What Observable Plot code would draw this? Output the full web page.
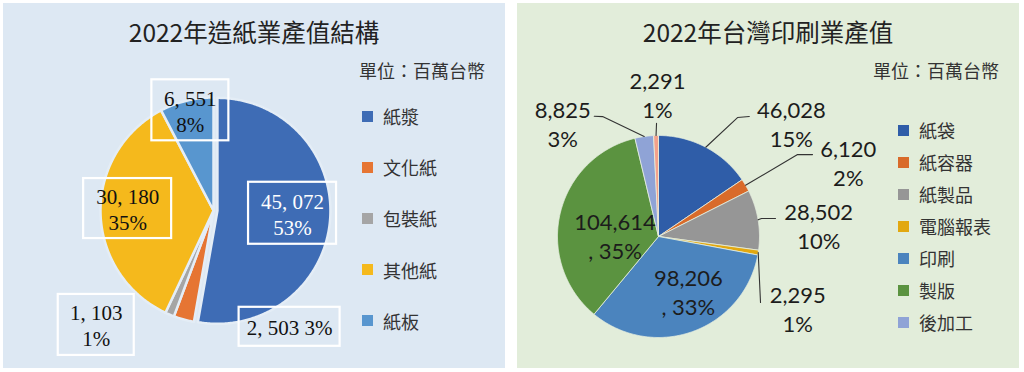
<!DOCTYPE html>
<html>
<head>
<meta charset="utf-8">
<script src="https://cdn.jsdelivr.net/npm/d3@7"></script>
<script src="https://cdn.jsdelivr.net/npm/@observablehq/plot@0.6"></script>
<style>
  html, body { margin: 0; padding: 0; background: #ffffff; }
  body { width: 1024px; height: 372px; position: relative; overflow: hidden;
         font-family: "Noto Sans CJK TC", "Noto Sans", sans-serif; }
  .panel { position: absolute; top: 3px; width: 502px; height: 365px; }
  .panel svg { position: absolute; left: 0; top: 0; }
  .title { position: absolute; left: 0; width: 100%; text-align: center; top: 12px;
           font-size: 24.5px; color: #222; line-height: 34px; white-space: nowrap; }
  .unit { position: absolute; right: 20px; top: 55px; font-size: 18px; color: #333;
          line-height: 24px; white-space: nowrap; }
  .legend { position: absolute; left: 0; top: 0; }
  .item { position: absolute; display: flex; align-items: center; font-size: 18px;
          color: #333; white-space: nowrap; line-height: 24px; }
  .sw { width: 11px; height: 11px; display: inline-block; }
</style>
</head>
<body>
<div id="left" class="panel" style="left:3px;background:#dde8f3">
  <div class="title" id="leftTitle"></div>
  <div class="unit" id="leftUnit"></div>
  <div class="legend" id="leftLegend"></div>
</div>
<div id="right" class="panel" style="left:517px;background:#e2edda">
  <div class="title" id="rightTitle"></div>
  <div class="unit" id="rightUnit"></div>
  <div class="legend" id="rightLegend"></div>
</div>
<script>
// ---------------- data ----------------
const paperTitle = "2022年造紙業產值結構";
const printTitle = "2022年台灣印刷業產值";
const unitText = "單位：百萬台幣";

const paperCategories = ["紙漿", "文化紙", "包裝紙", "其他紙", "紙板"];
const paperValues = [45072, 2503, 1103, 30180, 6551];
const paperValueText = ["45, 072", "2, 503", "1, 103", "30, 180", "6, 551"];
const paperPercents = ["53%", "3%", "1%", "35%", "8%"];
const paperColors = ["#3e6cb5", "#e67533", "#a5a5a5", "#f5b91c", "#5896cf"];

const printCategories = ["紙袋", "紙容器", "紙製品", "電腦報表", "印刷", "製版", "後加工", "其他"];
const printValues = [46028, 6120, 28502, 2295, 98206, 104614, 8825, 2291];
const printValueText = ["46,028", "6,120", "28,502", "2,295", "98,206", "104,614", "8,825", "2,291"];
const printPercents = ["15%", "2%", "10%", "1%", ", 33%", ", 35%", "3%", "1%"];
const printColors = ["#2f5da8", "#d96b2a", "#969696", "#e2a810", "#4b84be", "#5b9340", "#8fa3d6", "#f4a18b"];
const printLegendCount = 7; // the last slice has no legend entry

// ---------------- layout (not data) ----------------
const PW = 502, PH = 365;
const leftLayout = {
  cx: 210, cy: 207, R: 113,
  explode: [0.035, 0, 0, 0, 0],
  // label anchor: polar angle (deg, clockwise from 12 o'clock) and radius (x R)
  label: [[92, 0.70], [146.8, 1.23], [225.7, 1.45], [271.3, 0.76], [347, 0.91]],
  box: [[88, 62], [101, 39], [76, 61], [88, 60], [77, 61]],
  textColor: ["#ffffff", "#111", "#111", "#111", "#111"]
};
const rightLayout = {
  cx: 141, cy: 233, R: 101,
  label: [[49.5, 1.73], [68.5, 2.02], [86.1, 1.59], [117.2, 1.55], [151.6, 0.62], [272, 0.43], [319.8, 1.47], [359.6, 1.41]],
  leader: [[[33.6, 1.414], [37.1, 1.49]], [[59.5, 1.598], [62.0, 1.727]], [[80.1, 1.035], [81.25, 1.172]],
           [[122.9, 1.203]], [], [], [[335.0, 1.31], [331.9, 1.35]], [[359.0, 1.12]]]
};

const rad = Math.PI / 180;
const polar = (a, r) => [r * Math.sin(a * rad), r * Math.cos(a * rad)];

function slicePolys(cats, vals, explode) {
  const arcs = d3.pie().sort(null).value(d => d)(vals);
  const pts = [];
  arcs.forEach((arc, i) => {
    const mid = (arc.startAngle + arc.endAngle) / 2;
    const e = explode ? explode[i] : 0;
    const ox = e * Math.sin(mid), oy = e * Math.cos(mid);
    pts.push({name: cats[i], x: ox, y: oy});
    const n = Math.max(2, Math.ceil((arc.endAngle - arc.startAngle) / (0.5 * rad)));
    for (let k = 0; k <= n; k++) {
      const a = arc.startAngle + (arc.endAngle - arc.startAngle) * k / n;
      pts.push({name: cats[i], x: ox + Math.sin(a), y: oy + Math.cos(a)});
    }
    pts.push({name: cats[i], x: ox, y: oy});
  });
  return {arcs, pts};
}

function frame(L) {
  return {
    width: PW, height: PH, margin: 0,
    x: {domain: [-L.cx / L.R, (PW - L.cx) / L.R], range: [0, PW], axis: null},
    y: {domain: [(L.cy - PH) / L.R, L.cy / L.R], range: [PH, 0], axis: null},
    style: {background: "transparent", overflow: "visible"}
  };
}

// ---------------- left chart ----------------
{
  const L = leftLayout;
  const {pts} = slicePolys(paperCategories, paperValues, L.explode);
  const labels = paperCategories.map((c, i) => {
    const [x, y] = polar(L.label[i][0], L.label[i][1]);
    const text = i === 1 ? paperValueText[i] + " " + paperPercents[i] : paperValueText[i] + "\n" + paperPercents[i];
    const hw = L.box[i][0] / 2 / L.R, hh = L.box[i][1] / 2 / L.R;
    return {name: c, x, y, text, fill: L.textColor[i], x1: x - hw, x2: x + hw, y1: y - hh, y2: y + hh};
  });
  const svg = Plot.plot({
    ...frame(L),
    color: {type: "ordinal", domain: paperCategories, range: paperColors},
    marks: [
      Plot.line(pts, {x: "x", y: "y", z: "name", fill: "name", stroke: "#e4edf6", strokeWidth: 2.5, curve: "linear"}),
      Plot.rect(labels, {x1: "x1", x2: "x2", y1: "y1", y2: "y2", fill: "none", stroke: "#ffffff", strokeWidth: 2.2}),
      Plot.text(labels, {x: "x", y: "y", text: "text", fill: d => d.fill, fontSize: 21, lineHeight: 1.25,
        fontFamily: "'Liberation Serif', 'DejaVu Serif', serif"})
    ]
  });
  document.getElementById("left").appendChild(svg);
  document.getElementById("leftTitle").textContent = paperTitle;
  document.getElementById("leftUnit").textContent = unitText;
  const lg = document.getElementById("leftLegend");
  paperCategories.forEach((c, i) => {
    const it = document.createElement("div");
    it.className = "item";
    it.style.left = "359px";
    it.style.top = (113 + i * 51.2 - 12) + "px";
    it.innerHTML = `<span class="sw" style="background:${paperColors[i]}"></span><span style="margin-left:10px">${c}</span>`;
    lg.appendChild(it);
  });
}

// ---------------- right chart ----------------
{
  const L = rightLayout;
  const {arcs, pts} = slicePolys(printCategories, printValues, null);
  const labels = printCategories.map((c, i) => {
    const [x, y] = polar(L.label[i][0], L.label[i][1]);
    return {name: c, x, y, text: printValueText[i] + "\n" + printPercents[i]};
  });
  const leaders = [];
  arcs.forEach((arc, i) => {
    if (!L.leader[i].length) return;
    const mid = (arc.startAngle + arc.endAngle) / 2 / rad;
    const [x0, y0] = polar(mid, 1);
    leaders.push({name: printCategories[i], x: x0, y: y0});
    L.leader[i].forEach(([a, r]) => {
      const [x, y] = polar(a, r);
      leaders.push({name: printCategories[i], x, y});
    });
  });
  const svg = Plot.plot({
    ...frame(L),
    color: {type: "ordinal", domain: printCategories, range: printColors},
    marks: [
      Plot.line(pts, {x: "x", y: "y", z: "name", fill: "name", stroke: "#e6efe0", strokeWidth: 0.8, curve: "linear"}),
      Plot.line(leaders, {x: "x", y: "y", z: "name", stroke: "#333", strokeWidth: 1.1, curve: "linear"}),
      Plot.text(labels, {x: "x", y: "y", text: "text", fill: "#1c1c1c", fontSize: 22, lineHeight: 1.32,
        fontFamily: "Lato, 'Open Sans', sans-serif"})
    ]
  });
  document.getElementById("right").appendChild(svg);
  document.getElementById("rightTitle").textContent = printTitle;
  document.getElementById("rightUnit").textContent = unitText;
  const lg = document.getElementById("rightLegend");
  printCategories.slice(0, printLegendCount).forEach((c, i) => {
    const it = document.createElement("div");
    it.className = "item";
    it.style.left = "381px";
    it.style.top = (127 + i * 32 - 12) + "px";
    it.innerHTML = `<span class="sw" style="background:${printColors[i]}"></span><span style="margin-left:10px">${c}</span>`;
    lg.appendChild(it);
  });
}
</script>
</body>
</html>
